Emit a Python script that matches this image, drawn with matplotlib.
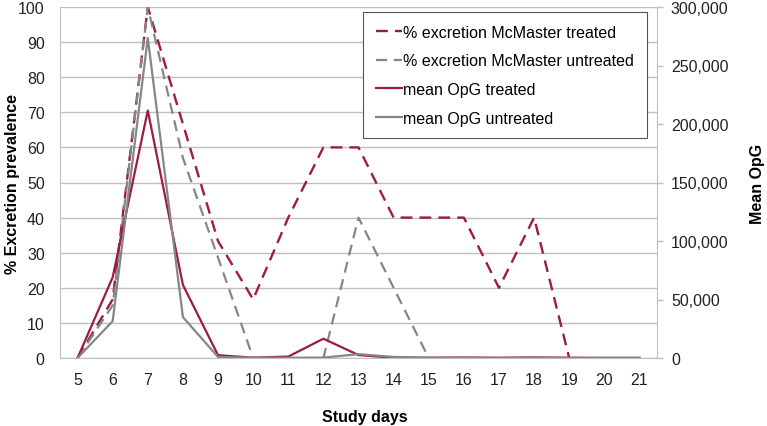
import numpy as np
import matplotlib
matplotlib.use("Agg")
import matplotlib.pyplot as plt
from matplotlib.ticker import FuncFormatter, MultipleLocator

plt.rcParams['font.family'] = ['Liberation Sans', 'DejaVu Sans']

# Data
days = list(range(5, 22))
pct_treated = [0, 16.7, 100, 66.7, 33.3, 16.7, 40, 60, 60, 40, 40, 40, 20, 40, 0,
               np.nan, np.nan]
pct_untreated = [0, 15, 100, 57, 28.6, 0, 0, 0, 40, 20, 0,
                 np.nan, np.nan, np.nan, np.nan, np.nan, np.nan]
opg_treated = [0, 69000, 211500, 62500, 2400, 300, 1200, 16500, 2500, 300, 200,
               400, 200, 500, 200, 100, 100]
opg_untreated = [0, 31500, 273500, 35000, 900, 300, 200, 300, 3300, 900, 300,
                 200, 100, 200, 100, 100, 100]

labels = ['% excretion McMaster treated', '% excretion McMaster untreated',
          'mean OpG treated', 'mean OpG untreated']

crimson = '#9E1A47'
grey = '#868686'
axis_grey = '#BFBFBF'
fs = 11.5

fig = plt.figure(figsize=(7.67, 4.27), dpi=100)
ax = fig.add_axes([60 / 767, 1 - 359 / 427, 597 / 767, 351 / 427])
ax2 = ax.twinx()

# percentage lines (left axis)
l1, = ax.plot(days, pct_treated, color=crimson, lw=1.7, dashes=(5, 3), zorder=3)
l2, = ax.plot(days, pct_untreated, color=grey, lw=1.6, dashes=(5, 3), zorder=3)

# mean OpG lines (right axis)
l3, = ax2.plot(days, opg_treated, color=crimson, lw=1.6)
l4, = ax2.plot(days, opg_untreated, color=grey, lw=1.6)

ax.set_xlim(4.5, 21.5)
ax.set_ylim(0, 100)
ax2.set_ylim(0, 300000)
ax.set_xticks(days)
ax.yaxis.set_major_locator(MultipleLocator(10))
ax2.yaxis.set_major_locator(MultipleLocator(50000))
ax2.yaxis.set_major_formatter(FuncFormatter(lambda v, p: f'{int(v):,}'))

ax.grid(axis='y', color=axis_grey, lw=1)
ax.set_axisbelow(True)

for a in (ax, ax2):
    for s in a.spines.values():
        s.set_visible(False)
ax.spines['left'].set_visible(True)
ax.spines['left'].set_color(axis_grey)
ax.spines['bottom'].set_visible(True)
ax.spines['bottom'].set_color(axis_grey)
ax2.spines['right'].set_visible(True)
ax2.spines['right'].set_color(axis_grey)

ax.tick_params(axis='x', length=0, pad=10, labelsize=fs, colors='#222222')
ax.tick_params(axis='y', length=0, pad=11, labelsize=fs, colors='#222222')
ax2.tick_params(axis='y', length=4, width=1, color=axis_grey, pad=6,
                labelsize=fs, labelcolor='#222222')

ax.set_xlabel('Study days', fontsize=fs, fontweight='bold')
ax.set_ylabel('% Excretion prevalence', fontsize=fs, fontweight='bold')
ax2.set_ylabel('Mean OpG', fontsize=fs, fontweight='bold', rotation=90)
ax.xaxis.set_label_coords(0.511, -0.145)
ax.yaxis.set_label_coords(-0.067, 0.5)
ax2.yaxis.set_label_coords(1.155, 0.5)

leg = ax2.legend([l1, l2, l3, l4], labels, loc='upper right',
                 bbox_to_anchor=(647 / 767, 1 - 13 / 427),
                 bbox_transform=fig.transFigure, borderaxespad=0,
                 fontsize=fs, handlelength=1.6, handletextpad=0.1,
                 labelspacing=0.85, fancybox=False, framealpha=1,
                 borderpad=0.8)
leg.get_frame().set_edgecolor('#555555')
leg.get_frame().set_linewidth(0.8)

fig.savefig('out.png', dpi=100)
